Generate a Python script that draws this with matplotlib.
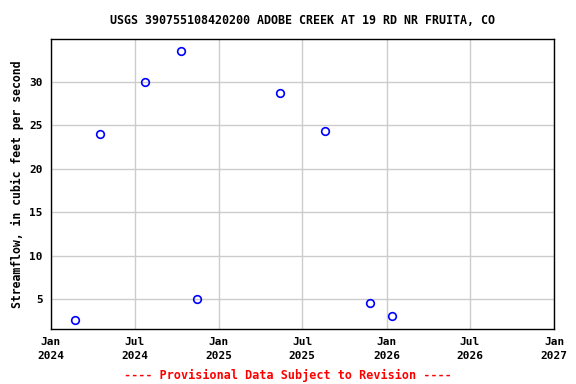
import matplotlib
matplotlib.use('Agg')
import matplotlib.pyplot as plt
import numpy as np

dates = np.array(['2024-02-22', '2024-04-17', '2024-07-24', '2024-10-10', '2024-11-14',
                  '2025-05-14', '2025-08-20', '2025-11-26', '2026-01-13'], dtype='datetime64[D]')
flow = [2.6, 24.0, 30.0, 33.6, 5.0, 28.7, 24.3, 4.5, 3.0]

tick_dates = np.array(['2024-01-01', '2024-07-01', '2025-01-01', '2025-07-01',
                       '2026-01-01', '2026-07-01', '2027-01-01'], dtype='datetime64[D]')
tick_labels = ['Jan\n2024', 'Jul\n2024', 'Jan\n2025', 'Jul\n2025', 'Jan\n2026', 'Jul\n2026', 'Jan\n2027']
y_ticks = [5, 10, 15, 20, 25, 30]

plt.rcParams['font.family'] = 'DejaVu Sans Mono'
plt.rcParams['font.weight'] = 'bold'

fig = plt.figure(figsize=(5.76, 3.84), dpi=100)
ax = fig.add_axes([0.0885, 0.1432, 0.8735, 0.7552])

ax.plot(dates.astype(object), flow, 'o', mfc='none', mec='#0000ff',
        ms=5.5, mew=1.2, zorder=3)

ax.set_xlim(tick_dates[0].astype(object), tick_dates[-1].astype(object))
ax.set_ylim(1.54, 34.95)
ax.set_xticks([d.astype(object) for d in tick_dates])
ax.set_xticklabels(tick_labels, linespacing=1.45)
ax.set_yticks(y_ticks)
ax.grid(True, color='#cccccc', linewidth=1)
ax.set_axisbelow(True)
ax.tick_params(labelsize=8, length=0, pad=6)
for s in ax.spines.values():
    s.set_linewidth(1)

ax.set_ylabel('Streamflow, in cubic feet per second', fontsize=8.3, fontweight='bold')
ax.set_title('USGS 390755108420200 ADOBE CREEK AT 19 RD NR FRUITA, CO', fontsize=8.4,
             fontweight='bold', pad=11)
fig.text(0.5, 0.012, '---- Provisional Data Subject to Revision ----', color='red',
         ha='center', fontsize=8.5, fontweight='bold')

fig.savefig('out.png', dpi=100)
